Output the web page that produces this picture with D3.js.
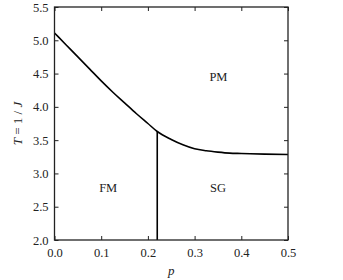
<!doctype html>
<html>
<head>
  <meta charset="utf-8">
  <title>Phase diagram</title>
  <style>
  body { margin: 0; background: #fff; }
  #vis text { font-family: "Liberation Serif", "DejaVu Serif", serif; fill: #222; }
  </style>
</head>
<body>
  <div id="vis"></div>
  <script src="https://d3js.org/d3.v7.min.js"></script>
  <script>
  // boundary between PM and the ordered phases
  var pVals = [0, 0.025, 0.05, 0.075, 0.1, 0.125, 0.15, 0.175, 0.2, 0.22, 0.25, 0.275, 0.3, 0.325, 0.35, 0.375, 0.4, 0.45, 0.5];
  var tVals = [5.11, 4.93, 4.75, 4.57, 4.39, 4.22, 4.06, 3.90, 3.75, 3.63, 3.51, 3.43, 3.37, 3.34, 3.32, 3.305, 3.30, 3.29, 3.285];
  // FM / SG boundary (vertical)
  var fmSgP = 0.22;
  var fmSgT = 3.63;
  var phaseNames = ['PM', 'FM', 'SG'];
  var phaseP = [0.351, 0.115, 0.35];
  var phaseT = [4.45, 2.79, 2.79];
  var xTicks = [0, 0.1, 0.2, 0.3, 0.4, 0.5];
  var yTicks = [2.0, 2.5, 3.0, 3.5, 4.0, 4.5, 5.0, 5.5];

  var width = 343, height = 280;
  var plot = { left: 54.5, right: 288, top: 7, bottom: 240 };

  var svg = d3.select('#vis').append('svg')
    .attr('width', width)
    .attr('height', height);

  var x = d3.scaleLinear().domain([0, 0.5]).range([plot.left, plot.right]);
  var y = d3.scaleLinear().domain([2, 5.5]).range([plot.bottom, plot.top]);

  var boundary = pVals.map(function(p, i){ return [p, tVals[i]]; });

  var line = d3.line()
    .x(function(d){ return x(d[0]); })
    .y(function(d){ return y(d[1]); })
    .curve(d3.curveMonotoneX);

  svg.append('path')
    .datum(boundary)
    .attr('d', line)
    .attr('fill', 'none')
    .attr('stroke', '#000')
    .attr('stroke-width', 1.6);

  svg.append('line')
    .attr('x1', x(fmSgP)).attr('x2', x(fmSgP))
    .attr('y1', y(2)).attr('y2', y(fmSgT))
    .attr('stroke', '#000')
    .attr('stroke-width', 1.6);

  // axes with inward ticks on all four sides
  function styleAxis(g){
    g.attr('font-family', null);
    g.select('.domain').remove();
    g.selectAll('.tick line').attr('stroke', '#222').attr('stroke-width', 1);
    g.selectAll('text').attr('font-size', 12.5).attr('fill', '#222');
  }

  svg.append('g')
    .attr('transform', 'translate(0,' + plot.bottom + ')')
    .call(d3.axisBottom(x).tickValues(xTicks).tickFormat(d3.format('.1f')).tickSizeInner(-4).tickSizeOuter(0).tickPadding(8))
    .call(styleAxis);

  svg.append('g')
    .attr('transform', 'translate(0,' + plot.top + ')')
    .call(d3.axisTop(x).tickValues(xTicks).tickFormat('').tickSizeInner(-4).tickSizeOuter(0))
    .call(styleAxis);

  svg.append('g')
    .attr('transform', 'translate(' + plot.left + ',0)')
    .call(d3.axisLeft(y).tickValues(yTicks).tickFormat(d3.format('.1f')).tickSizeInner(-4).tickSizeOuter(0).tickPadding(6))
    .call(styleAxis);

  svg.append('g')
    .attr('transform', 'translate(' + plot.right + ',0)')
    .call(d3.axisRight(y).tickValues(yTicks).tickFormat('').tickSizeInner(-4).tickSizeOuter(0))
    .call(styleAxis);

  svg.append('rect')
    .attr('x', plot.left).attr('y', plot.top)
    .attr('width', plot.right - plot.left).attr('height', plot.bottom - plot.top)
    .attr('fill', 'none')
    .attr('stroke', '#222')
    .attr('stroke-width', 1.3);

  svg.selectAll('.phase').data(phaseNames).enter().append('text')
    .attr('class', 'phase')
    .attr('x', function(d, i){ return x(phaseP[i]); })
    .attr('y', function(d, i){ return y(phaseT[i]); })
    .attr('dy', '0.35em')
    .attr('text-anchor', 'middle')
    .attr('font-size', 12.5)
    .text(function(d){ return d; });

  svg.append('text')
    .attr('x', x(0.25))
    .attr('y', 275)
    .attr('text-anchor', 'middle')
    .attr('font-size', 13)
    .attr('font-style', 'italic')
    .text('p');

  var ylab = svg.append('text')
    .attr('transform', 'translate(22,' + ((plot.top + plot.bottom) / 2) + ') rotate(-90)')
    .attr('text-anchor', 'middle')
    .attr('font-size', 13);
  ylab.append('tspan').attr('font-style', 'italic').text('T');
  ylab.append('tspan').text(' = 1 / ');
  ylab.append('tspan').attr('font-style', 'italic').text('J');
  </script>
</body>
</html>
